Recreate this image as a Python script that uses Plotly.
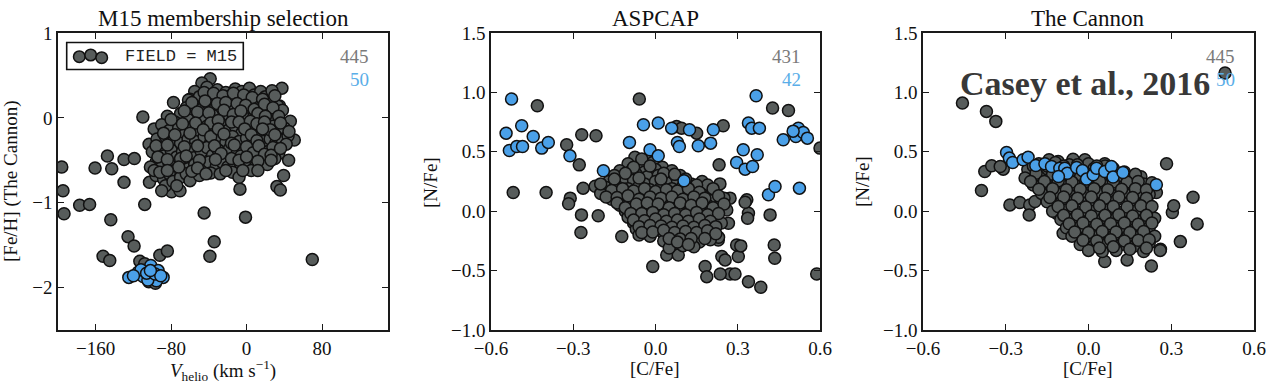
import plotly.graph_objects as go

# ---------------- data ----------------
# Panel 1: V_helio vs [Fe/H]
m15_field_points = [
    (-196, -0.58), (-194.7, -0.86), (-193.6, -1.13), (-160.7, -0.59), (-177, -1.03), (-166.5, -1.02),
    (-147.6, -0.45), (-143, -0.60), (-144, -1.20), (-130, -0.49), (-119, -0.48), (-130, -0.76),
    (-110, 0.01), (-108, -1.02), (-125.7, -1.40), (-119.3, -1.51), (-152.2, -1.63), (-145.1, -1.68),
    (-113.2, -1.69), (-108, -1.72), (-92, -1.62), (-84, -1.57), (-103.7, -1.93), (-96.7, -1.95),
    (-45, -1.12), (-34.3, -1.46), (-38.9, -1.63), (-1.1, -1.17), (-7, -0.84), (69.7, -1.67),
    (37.5, 0.35), (46.4, -0.04), (50.6, -0.26), (44.6, -0.50), (39.3, -0.68), (32.2, -0.81),
    (35.8, -0.85), (35, 0.14), (-98, -0.13), (-103.4, -0.31), (-103, -0.76), (-79.5, -0.87), (-70.6, -0.86),
    (-38.6, 0.46), (-47.4, 0.41), (-42, 0.36), (-55, 0.31), (-31, 0.33), (-22, 0.30), (-12, 0.34),
    (-5, 0.31), (3, 0.35), (8, 0.27), (15, 0.31), (20, 0.25), (27, 0.32), (-60, 0.22), (-50, 0.25),
    (-36, 0.26), (-27, 0.21), (-17, 0.26), (-8, 0.22), (2, 0.19), (12, 0.20), (24, 0.19), (33, 0.14),
    (-77.5, 0.18), (-61.6, 0.21),
    (-70, 0.05), (-64, 0.12), (-56, 0.15), (-48, 0.10), (-41, 0.17), (-33, 0.12), (-28, 0.05), (-20, 0.14),
    (-13, 0.09), (-4, 0.13), (4, 0.08), (10, 0.14), (17, 0.07), (22, 0.12), (30, 0.05), (38, 0.09),
    (-52, 0.02), (-44, -0.02), (-36, 0.03), (-18, 0.01), (-9, 0.04), (0, -0.01), (8, 0.02), (14, -0.03),
    (25, 0.0), (-84, 0.02), (-76, -0.05), (-62, -0.02),
    (-90, -0.08), (-82, -0.15), (-72, -0.12), (-66, -0.20), (-57, -0.10), (-50, -0.16), (-42, -0.10),
    (-34, -0.18), (-26, -0.08), (-20, -0.15), (-12, -0.10), (-5, -0.18), (2, -0.08), (8, -0.15),
    (15, -0.09), (21, -0.17), (28, -0.10), (34, -0.18), (40, -0.12), (-95, -0.25), (-86, -0.22),
    (-78, -0.28), (-70, -0.30), (-62, -0.25), (-54, -0.28), (-45, -0.22), (-38, -0.29), (-29, -0.24),
    (-22, -0.29), (-15, -0.22), (-8, -0.28), (0, -0.24), (6, -0.30), (12, -0.22), (18, -0.28),
    (25, -0.25), (31, -0.30), (38, -0.26), (44, -0.21),
    (-100, -0.40), (-92, -0.36), (-88, -0.45), (-80, -0.38), (-74, -0.46), (-68, -0.40), (-60, -0.37),
    (-56, -0.47), (-48, -0.40), (-42, -0.35), (-36, -0.44), (-30, -0.38), (-24, -0.46), (-18, -0.36),
    (-10, -0.42), (-3, -0.37), (4, -0.45), (10, -0.38), (16, -0.46), (22, -0.40), (28, -0.35),
    (34, -0.42), (-96, -0.52), (-90, -0.58), (-82, -0.55), (-76, -0.62), (-68, -0.53), (-62, -0.60),
    (-55, -0.55), (-46, -0.60), (-40, -0.52), (-32, -0.57), (-26, -0.52), (-20, -0.58), (-13, -0.52),
    (-6, -0.56), (2, -0.52), (9, -0.58), (15, -0.50), (22, -0.55), (30, -0.48), (-102, -0.58),
    (-96, -0.68), (-88, -0.72), (-82, -0.66), (-86, -0.80), (-78, -0.75), (-70, -0.70), (-64, -0.66),
    (-60, -0.74), (-50, -0.68), (-38, -0.65), (-28, -0.66), (-15, -0.64), (-8, -0.70), (5, -0.62),
    (-45, 0.30), (-35, 0.29), (-25, 0.26), (-14, 0.29), (-3, 0.27), (6, 0.24), (17, 0.22), (30, 0.26),
    (-58, 0.18), (-44, 0.20), (-31, 0.17), (-22, 0.18), (-10, 0.17), (-1, 0.15), (8, 0.10), (19, 0.16),
    (28, 0.12), (-66, 0.08), (-52, 0.07), (-40, 0.06), (-24, 0.09), (-14, 0.04), (-6, 0.08), (12, 0.05),
    (20, 0.02), (34, 0.02), (-80, -0.02), (-68, -0.07), (-54, -0.06), (-38, -0.06), (-30, -0.03),
    (-16, -0.05), (-8, -0.05), (4, -0.04), (11, -0.07), (19, -0.05), (25, -0.14), (36, -0.06), (45, -0.16),
    (-88, -0.18), (-76, -0.20), (-60, -0.18), (-46, -0.14), (-38, -0.22), (-30, -0.13), (-24, -0.19),
    (-16, -0.30), (-2, -0.13), (5, -0.20), (11, -0.27), (17, -0.13), (30, -0.20), (42, -0.31),
    (-96, -0.33), (-84, -0.32), (-66, -0.34), (-52, -0.33), (-34, -0.33), (-27, -0.42), (-13, -0.32),
    (-6, -0.45), (0, -0.34), (7, -0.41), (13, -0.33), (19, -0.43), (26, -0.44), (36, -0.36),
    (-94, -0.46), (-84, -0.49), (-70, -0.48), (-64, -0.45), (-50, -0.50), (-33, -0.49), (-16, -0.48),
    (-8, -0.50), (0, -0.46), (12, -0.51), (26, -0.50), (-98, -0.62), (-92, -0.64), (-72, -0.58),
    (-58, -0.63), (-52, -0.59), (-43, -0.66), (-22, -0.62), (-4, -0.62), (12, -0.62), (-74, -0.80),
    (-90, -0.86), (-84, -0.62),
]
m15_member_points = [
    (-124.9, -1.88), (-115.0, -1.82), (-109.7, -1.87), (-101.6, -1.74), (-99.1, -1.87), (-93.8, -1.80),
    (-88.5, -1.88), (-95.6, -1.92), (-104.7, -1.91), (-112, -1.79), (-106, -1.83), (-97, -1.84),
    (-120, -1.86), (-91, -1.86), (-102, -1.80),
]

# Panel 2: ASPCAP [C/Fe] vs [N/Fe]
aspcap_field_points = [
    (-0.059, 0.944), (-0.431, 0.888), (0.427, 0.868), (0.485, 0.848), (-0.269, 0.643), (-0.217, 0.635),
    (-0.324, 0.559), (-0.278, 0.390), (-0.519, 0.157), (-0.399, 0.157), (-0.311, 0.110), (-0.317, 0.062),
    (-0.264, 0.194), (-0.270, -0.031), (-0.272, -0.180), (-0.209, -0.039), (-0.123, -0.213), (-0.010, -0.466),
    (0.077, 0.713), (0.095, 0.699), (0.150, 0.657), (0.247, 0.719), (0.232, 0.390), (0.600, 0.531),
    (0.588, -0.528), (0.384, -0.640), (0.339, -0.593), (0.272, -0.528), (0.290, -0.528), (0.236, -0.528),
    (0.181, -0.466), (0.187, -0.551), (0.242, -0.382), (0.254, -0.410), (0.302, -0.382), (0.296, -0.284),
    (0.311, -0.292), (0.433, -0.284), (0.435, -0.396), (0.418, -0.031), (0.333, 0.096), (0.339, -0.017),
    (0.336, -0.059), (0.272, 0.110), (0.266, -0.101), (0.041, -0.368), (0.083, -0.368), (0.327, 0.075),
    (0.229, -0.242),
    (-0.075, 0.455), (-0.03, 0.43), (-0.10, 0.40), (-0.055, 0.39), (-0.01, 0.41), (0.025, 0.37),
    (-0.13, 0.34), (-0.085, 0.35), (-0.04, 0.33), (0.0, 0.35), (0.06, 0.34),
    (-0.15, 0.30), (-0.11, 0.28), (-0.07, 0.31), (-0.03, 0.29), (0.01, 0.30), (0.05, 0.28), (0.09, 0.30),
    (-0.17, 0.25), (-0.12, 0.24), (-0.08, 0.26), (-0.04, 0.23), (0.0, 0.25), (0.04, 0.24), (0.08, 0.26),
    (0.13, 0.23), (0.17, 0.25),
    (-0.22, 0.21), (-0.18, 0.20), (-0.145, 0.22), (-0.10, 0.19), (-0.06, 0.21), (-0.02, 0.18), (0.02, 0.20),
    (0.06, 0.19), (0.10, 0.21), (0.14, 0.18), (0.19, 0.22), (0.235, 0.23),
    (-0.20, 0.15), (-0.15, 0.14), (-0.11, 0.16), (-0.07, 0.13), (-0.03, 0.15), (0.01, 0.14), (0.05, 0.16),
    (0.09, 0.13), (0.13, 0.15), (0.17, 0.14), (0.21, 0.16),
    (-0.16, 0.10), (-0.12, 0.09), (-0.08, 0.11), (-0.04, 0.08), (0.0, 0.10), (0.04, 0.09), (0.08, 0.11),
    (0.12, 0.08), (0.16, 0.10), (0.20, 0.09), (0.25, 0.11),
    (-0.13, 0.05), (-0.09, 0.04), (-0.05, 0.06), (-0.01, 0.03), (0.03, 0.05), (0.07, 0.04), (0.11, 0.06),
    (0.15, 0.03), (0.19, 0.05), (0.23, 0.04),
    (-0.11, 0.0), (-0.07, -0.01), (-0.03, 0.01), (0.01, -0.02), (0.05, 0.0), (0.09, -0.01), (0.13, 0.01),
    (0.17, -0.02), (0.21, 0.0), (0.26, 0.01),
    (-0.10, -0.05), (-0.06, -0.06), (-0.02, -0.04), (0.02, -0.07), (0.06, -0.05), (0.10, -0.06),
    (0.14, -0.04), (0.18, -0.07), (0.22, -0.05),
    (-0.08, -0.10), (-0.04, -0.11), (0.0, -0.09), (0.04, -0.12), (0.08, -0.10), (0.12, -0.11),
    (0.16, -0.09), (0.20, -0.12), (0.24, -0.10),
    (-0.07, -0.15), (-0.03, -0.16), (0.01, -0.14), (0.05, -0.17), (0.09, -0.15), (0.13, -0.16),
    (0.17, -0.14), (0.21, -0.17),
    (-0.06, -0.20), (-0.02, -0.21), (0.03, -0.19), (0.07, -0.22), (0.11, -0.20), (0.15, -0.21),
    (0.19, -0.19), (0.23, -0.22),
    (0.03, -0.25), (0.07, -0.27), (0.11, -0.25), (0.16, -0.26), (0.20, -0.24),
    (0.05, -0.31), (0.10, -0.29), (0.14, -0.30),
    (-0.05, 0.44), (-0.08, 0.37), (-0.02, 0.38), (-0.11, 0.32), (0.03, 0.32), (-0.15, 0.27), (-0.06, 0.28),
    (0.02, 0.27), (0.07, 0.31), (0.11, 0.27), (0.15, 0.22), (-0.20, 0.23), (-0.16, 0.175), (-0.12, 0.19),
    (-0.08, 0.17), (-0.04, 0.19), (0.0, 0.165), (0.04, 0.18), (0.08, 0.17), (0.12, 0.19), (0.16, 0.16),
    (0.21, 0.19), (-0.18, 0.12), (-0.14, 0.115), (-0.10, 0.13), (-0.06, 0.10), (-0.02, 0.12), (0.02, 0.11),
    (0.06, 0.12), (0.10, 0.10), (0.14, 0.12), (0.18, 0.11), (0.23, 0.13), (-0.14, 0.07), (-0.11, 0.03),
    (-0.07, 0.06), (-0.03, 0.07), (0.01, 0.06), (0.05, 0.03), (0.09, 0.07), (0.13, 0.05), (0.17, 0.07),
    (0.21, 0.03), (0.25, 0.06), (-0.09, -0.02), (-0.05, -0.02), (-0.01, -0.01), (0.03, -0.03), (0.07, -0.02),
    (0.11, -0.03), (0.15, -0.01), (0.19, -0.03), (0.23, -0.02), (-0.08, -0.075), (-0.04, -0.08),
    (0.0, -0.065), (0.04, -0.085), (0.08, -0.075), (0.12, -0.085), (0.16, -0.065), (0.20, -0.085),
    (-0.06, -0.13), (-0.02, -0.12), (0.02, -0.125), (0.06, -0.135), (0.10, -0.125), (0.14, -0.135),
    (0.18, -0.12), (0.22, -0.13), (-0.05, -0.18), (-0.01, -0.175), (0.03, -0.16), (0.07, -0.18),
    (0.11, -0.17), (0.15, -0.18), (0.19, -0.165), (0.22, -0.19), (0.05, -0.23), (0.09, -0.235),
    (0.13, -0.23), (0.18, -0.23), (0.08, -0.26), (0.12, -0.28),
]
aspcap_member_points = [
    (-0.545, 0.657), (-0.525, 0.944), (-0.533, 0.511), (-0.506, 0.545), (-0.488, 0.719), (-0.485, 0.545),
    (-0.446, 0.629), (-0.415, 0.531), (-0.391, 0.579), (-0.312, 0.466), (-0.190, 0.340), (-0.095, 0.579),
    (-0.044, 0.728), (-0.020, 0.517), (0.010, 0.466), (0.010, 0.742), (0.059, 0.699), (0.080, 0.579),
    (0.087, 0.545), (0.124, 0.685), (0.156, 0.551), (0.201, 0.573), (0.211, 0.685), (0.104, 0.256),
    (0.296, 0.410), (0.320, 0.517), (0.327, 0.354), (0.339, 0.742), (0.351, 0.699), (0.354, 0.376),
    (0.367, 0.972), (0.371, 0.475), (0.379, 0.699), (0.412, 0.138), (0.436, 0.208), (0.466, 0.601),
    (0.512, 0.629), (0.521, 0.699), (0.539, 0.663), (0.554, 0.615), (0.525, 0.194), (0.502, 0.674),
]

# Panel 3: The Cannon [C/Fe] vs [N/Fe]
cannon_field_points = [
    (-0.457, 0.910), (-0.370, 0.840), (-0.336, 0.756), (-0.388, 0.174), (-0.376, 0.334), (-0.351, 0.382),
    (-0.309, 0.354), (-0.320, 0.376), (-0.285, 0.053), (-0.249, 0.073), (-0.213, 0.053), (-0.194, 0.081),
    (-0.215, -0.031), (-0.116, -0.017), (-0.126, 0.025), (-0.092, -0.185), (0.059, -0.424), (0.140, -0.410),
    (0.228, -0.461), (0.261, -0.320), (0.333, -0.256), (0.394, -0.107), (0.379, 0.118), (0.304, -0.011),
    (0.309, 0.045), (0.283, 0.399), (0.495, 1.163), (-0.143, 0.433), (-0.110, 0.419), (-0.056, 0.438),
    (-0.013, 0.433), (0.059, 0.399), (0.101, 0.208), (0.192, 0.236), (0.246, 0.157), (0.234, -0.059),
    (-0.18, 0.40), (-0.12, 0.41), (-0.07, 0.39), (0.0, 0.40), (0.06, 0.38),
    (-0.22, 0.35), (-0.16, 0.36), (-0.10, 0.34), (-0.04, 0.35), (0.02, 0.36), (0.08, 0.34), (0.13, 0.33),
    (-0.23, 0.28), (-0.18, 0.29), (-0.13, 0.27), (-0.08, 0.28), (-0.03, 0.29), (0.02, 0.27), (0.08, 0.28),
    (0.14, 0.27), (0.19, 0.29),
    (-0.20, 0.22), (-0.15, 0.21), (-0.10, 0.23), (-0.05, 0.22), (0.0, 0.21), (0.05, 0.23), (0.10, 0.22),
    (0.15, 0.21), (0.20, 0.23),
    (-0.17, 0.15), (-0.12, 0.16), (-0.07, 0.14), (-0.02, 0.15), (0.03, 0.16), (0.08, 0.14), (0.13, 0.15),
    (0.18, 0.16), (0.22, 0.14),
    (-0.15, 0.08), (-0.10, 0.07), (-0.05, 0.09), (0.0, 0.08), (0.05, 0.07), (0.10, 0.09), (0.15, 0.08),
    (0.20, 0.07),
    (-0.13, 0.0), (-0.08, 0.01), (-0.03, -0.01), (0.02, 0.0), (0.07, 0.01), (0.12, -0.01), (0.17, 0.0),
    (0.22, 0.01),
    (-0.10, -0.07), (-0.05, -0.06), (0.0, -0.08), (0.05, -0.07), (0.10, -0.06), (0.15, -0.08), (0.20, -0.07),
    (0.24, -0.06),
    (-0.08, -0.14), (-0.03, -0.13), (0.02, -0.15), (0.07, -0.14), (0.12, -0.13), (0.17, -0.15), (0.22, -0.14),
    (-0.06, -0.21), (-0.01, -0.22), (0.04, -0.20), (0.09, -0.21), (0.14, -0.22), (0.19, -0.20), (0.24, -0.21),
    (-0.03, -0.28), (0.02, -0.29), (0.07, -0.27), (0.12, -0.28), (0.17, -0.29), (0.22, -0.27),
    (0.0, -0.33), (0.05, -0.34), (0.10, -0.33), (0.20, -0.34), (0.26, -0.33),
    (-0.20, 0.38), (-0.15, 0.38), (-0.09, 0.38), (-0.04, 0.39), (0.03, 0.38), (0.09, 0.36), (-0.19, 0.32),
    (-0.13, 0.31), (-0.07, 0.32), (-0.01, 0.32), (0.05, 0.31), (0.11, 0.30), (0.17, 0.31), (-0.21, 0.25),
    (-0.16, 0.25), (-0.11, 0.255), (-0.06, 0.245), (-0.01, 0.25), (0.04, 0.255), (0.09, 0.245), (0.14, 0.245),
    (0.18, 0.25), (0.23, 0.24), (-0.18, 0.185), (-0.13, 0.19), (-0.08, 0.18), (-0.03, 0.185), (0.02, 0.19),
    (0.07, 0.18), (0.12, 0.185), (0.17, 0.19), (0.21, 0.18), (-0.14, 0.115), (-0.09, 0.12), (-0.04, 0.11),
    (0.01, 0.12), (0.06, 0.11), (0.11, 0.12), (0.16, 0.115), (0.21, 0.11), (-0.11, 0.04), (-0.06, 0.045),
    (-0.01, 0.035), (0.04, 0.045), (0.09, 0.04), (0.14, 0.035), (0.19, 0.045), (0.23, 0.04), (-0.09, -0.035),
    (-0.04, -0.03), (0.01, -0.04), (0.06, -0.035), (0.11, -0.03), (0.16, -0.04), (0.21, -0.035),
    (-0.07, -0.105), (-0.02, -0.10), (0.03, -0.11), (0.08, -0.105), (0.13, -0.10), (0.18, -0.11),
    (0.23, -0.10), (-0.05, -0.175), (0.0, -0.18), (0.05, -0.17), (0.10, -0.175), (0.15, -0.18),
    (0.20, -0.17), (-0.02, -0.245), (0.03, -0.25), (0.08, -0.24), (0.13, -0.25), (0.18, -0.245),
    (0.22, -0.24), (0.04, -0.31), (0.09, -0.30), (0.15, -0.32), (0.21, -0.31),
]
cannon_member_points = [
    (-0.297, 0.494), (-0.287, 0.447), (-0.275, 0.410), (-0.237, 0.433), (-0.219, 0.455), (-0.191, 0.385),
    (-0.158, 0.399), (-0.134, 0.376), (-0.104, 0.362), (-0.086, 0.362), (-0.077, 0.320), (-0.043, 0.368),
    (-0.022, 0.343), (-0.007, 0.270), (0.017, 0.306), (0.029, 0.362), (0.059, 0.334), (0.083, 0.376),
    (0.089, 0.287), (0.125, 0.326), (0.246, 0.222), (-0.109, 0.292),
]

panel_titles = ["M15 membership selection", "ASPCAP", "The Cannon"]
field_counts = ["445", "431", "445"]
member_counts = ["50", "42", "50"]
p1_xticks = [-160, -80, 0, 80]
p1_yticks = [-2, -1, 0, 1]
cn_ticks_x = [-0.6, -0.3, 0.0, 0.3, 0.6]
cn_ticks_y = [-1.0, -0.5, 0.0, 0.5, 1.0, 1.5]

# ---------------- styling ----------------
W, H = 1266, 391
GRAY = "#575c5b"
BLUE = "#4aa0e8"
EDGE = "#111111"
SERIF = "Liberation Serif, Times New Roman, serif"

def px(x):
    return x / W

def py(y):
    return 1 - y / H

fig = go.Figure()

def add(xa, ya, pts, color):
    fig.add_trace(go.Scatter(
        x=[p[0] for p in pts], y=[p[1] for p in pts], mode="markers",
        xaxis=xa, yaxis=ya, showlegend=False, hoverinfo="skip",
        marker=dict(size=12, color=color, line=dict(color=EDGE, width=1.5)),
    ))

add("x", "y", m15_field_points, GRAY)
add("x", "y", m15_member_points, BLUE)
add("x2", "y2", aspcap_field_points, GRAY)
add("x2", "y2", aspcap_member_points, BLUE)
add("x3", "y3", cannon_field_points, GRAY)
add("x3", "y3", cannon_member_points, BLUE)

ax = dict(showline=True, linecolor="#1a1a1a", linewidth=1.6, mirror="ticks",
          ticks="inside", ticklen=6, tickwidth=1, tickcolor="#1a1a1a",
          showgrid=False, zeroline=False, automargin=False,
          tickfont=dict(family=SERIF, size=19, color="#111"))

ydom = [py(330), py(33)]
x_doms = [[px(58), px(388)], [px(491), px(820)], [px(923), px(1254)]]

fig.update_layout(
    width=W, height=H, margin=dict(l=0, r=0, t=0, b=0),
    plot_bgcolor="white", paper_bgcolor="white",
    xaxis=dict(ax, domain=x_doms[0], range=[-200, 150], tickvals=p1_xticks),
    yaxis=dict(ax, domain=ydom, range=[-2.5, 1], tickvals=p1_yticks),
    xaxis2=dict(ax, domain=x_doms[1], range=[-0.6, 0.6], tickvals=cn_ticks_x, tickformat=".1f", anchor="y2"),
    yaxis2=dict(ax, domain=ydom, range=[-1, 1.5], tickvals=cn_ticks_y, tickformat=".1f", anchor="x2"),
    xaxis3=dict(ax, domain=x_doms[2], range=[-0.6, 0.6], tickvals=cn_ticks_x, tickformat=".1f", anchor="y3"),
    yaxis3=dict(ax, domain=ydom, range=[-1, 1.5], tickvals=cn_ticks_y, tickformat=".1f", anchor="x3"),
)

ann = []
title_x = [223, 655, 1088]
for t, x in zip(panel_titles, title_x):
    ann.append(dict(text=t, x=px(x), y=py(18), xref="paper", yref="paper", showarrow=False,
                    xanchor="center", yanchor="middle", font=dict(family=SERIF, size=23, color="#111")))

xtitles = ["<i>V</i><sub>helio</sub> (km s<sup>−1</sup>)", "[C/Fe]", "[C/Fe]"]
xt_x = [223, 655, 1088]
xt_y = [370, 368, 368]
for t, x, y in zip(xtitles, xt_x, xt_y):
    ann.append(dict(text=t, x=px(x), y=py(y), xref="paper", yref="paper", showarrow=False,
                    xanchor="center", yanchor="middle", font=dict(family=SERIF, size=19, color="#111")))

ytitles = ["[Fe/H] (The Cannon)", "[N/Fe]", "[N/Fe]"]
yt_x = [11, 430, 862]
for t, x in zip(ytitles, yt_x):
    ann.append(dict(text=t, x=px(x), y=py(182), xref="paper", yref="paper", showarrow=False,
                    textangle=-90, xanchor="center", yanchor="middle",
                    font=dict(family=SERIF, size=19, color="#111")))

count_right = [371, 803, 1237]
for fc, mc, xr in zip(field_counts, member_counts, count_right):
    ann.append(dict(text=fc, x=px(xr), y=py(57), xref="paper", yref="paper", showarrow=False,
                    xanchor="right", yanchor="middle", font=dict(family=SERIF, size=19, color="#7a7a7a")))
    ann.append(dict(text=mc, x=px(xr), y=py(80), xref="paper", yref="paper", showarrow=False,
                    xanchor="right", yanchor="middle", font=dict(family=SERIF, size=19, color="#5aaee8")))

ann.append(dict(text="<b>Casey et al., 2016</b>", x=px(1212), y=py(83), xref="paper", yref="paper",
                showarrow=False, xanchor="right", yanchor="middle",
                font=dict(family=SERIF, size=34, color="#383838")))

# legend (panel 1)
ann.append(dict(text="FIELD = M15", x=px(123), y=py(57), xref="paper", yref="paper", showarrow=False,
                xanchor="left", yanchor="middle",
                font=dict(family="Liberation Mono, Courier New, monospace", size=17, color="#222")))

shapes = [dict(type="rect", xref="paper", yref="paper", x0=px(66.7), x1=px(243.3), y0=py(69.5), y1=py(42.5),
               line=dict(color="#111", width=1.6), fillcolor="white", layer="above")]
for cx, cy in [(79.3, 56.7), (90.7, 55.0), (101.7, 57.7)]:
    r = 5.8
    shapes.append(dict(type="circle", xref="paper", yref="paper", x0=px(cx - r), x1=px(cx + r),
                       y0=py(cy + r), y1=py(cy - r), fillcolor=GRAY, line=dict(color=EDGE, width=1.5),
                       layer="above"))

fig.update_layout(annotations=ann, shapes=shapes)
fig.write_html("out.html", config={"displayModeBar": False},
               post_script="document.body.style.margin='0px';document.body.style.overflow='hidden';")
